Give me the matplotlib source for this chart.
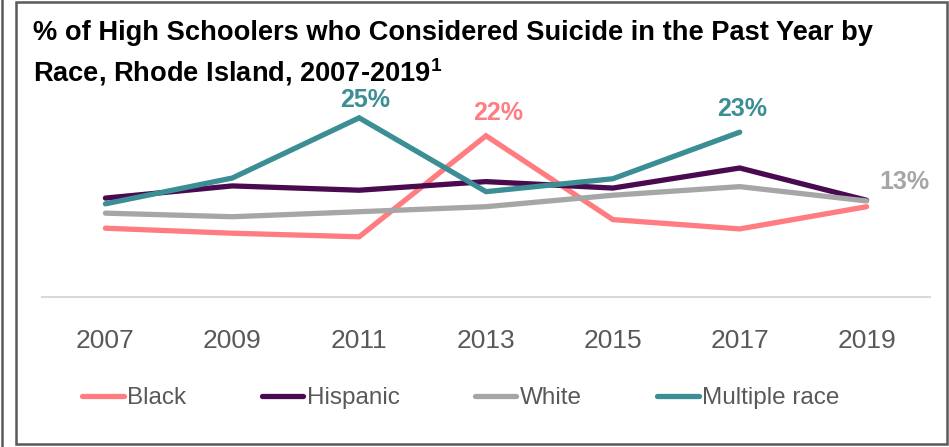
import matplotlib
matplotlib.use("Agg")
import matplotlib.pyplot as plt
from matplotlib.patches import Rectangle
from matplotlib.lines import Line2D

years = ["2007", "2009", "2011", "2013", "2015", "2017", "2019"]
black = [9.6, 8.9, 8.4, 22.5, 10.8, 9.5, 12.6]
hispanic = [13.8, 15.5, 14.9, 16.1, 15.2, 18.0, 13.5]
white = [11.7, 11.2, 11.9, 12.6, 14.2, 15.4, 13.4]
multiple = [13.0, 16.6, 25.0, 14.7, 16.5, 23.0]

c_black = "#FF7C80"
c_hisp = "#4A0A50"
c_white = "#A6A6A6"
c_mult = "#3A8E94"

plt.rcParams["font.family"] = ["Liberation Sans", "DejaVu Sans"]
plt.rcParams["mathtext.fontset"] = "custom"
plt.rcParams["mathtext.rm"] = "Liberation Sans:bold"
plt.rcParams["mathtext.it"] = "Liberation Sans:bold"
plt.rcParams["mathtext.bf"] = "Liberation Sans:bold"

W, H = 949, 447
fig = plt.figure(figsize=(W / 100, H / 100), dpi=100)

# frame like the source slide
fig.patches.append(Rectangle((16 / W, 3 / H), 931 / W, 442 / H, transform=fig.transFigure,
                             fill=False, edgecolor="#595959", linewidth=1.8))
fig.lines.append(Line2D([1.5 / W, 1.5 / W], [0, 1], transform=fig.transFigure,
                        color="#595959", linewidth=1.8))

ax = fig.add_axes([42 / W, (H - 297) / H, 888 / W, 215 / H])
x = list(range(len(years)))
lw = 3.8
ax.plot(x, black, color=c_black, lw=lw, solid_capstyle="round", solid_joinstyle="miter", label="Black")
ax.plot(x, hispanic, color=c_hisp, lw=lw, solid_capstyle="round", solid_joinstyle="miter", label="Hispanic")
ax.plot(x, white, color=c_white, lw=lw, solid_capstyle="round", solid_joinstyle="miter", label="White")
ax.plot(x[:len(multiple)], multiple, color=c_mult, lw=lw, solid_capstyle="round",
        solid_joinstyle="miter", label="Multiple race")

ax.set_xlim(-0.5, 6.5)
ax.set_ylim(0, 30)
ax.set_yticks([])
ax.set_xticks(x)
ax.set_xticklabels(years, fontsize=19, color="#595959")
ax.tick_params(axis="x", length=0, pad=23)
for s in ["top", "right", "left"]:
    ax.spines[s].set_visible(False)
ax.spines["bottom"].set_color("#D9D9D9")
ax.spines["bottom"].set_linewidth(1.5)

lab = dict(fontsize=18, fontweight="bold", ha="center", va="center", textcoords="offset points")
ax.annotate("25%", (2, multiple[2]), xytext=(4, 12.5), color=c_mult, **lab)
ax.annotate("22%", (3, black[3]), xytext=(9, 16.5), color=c_black, **lab)
ax.annotate("23%", (5, multiple[5]), xytext=(1.5, 17), color=c_mult, **lab)
ax.annotate("13%", (6, white[6]), xytext=(27, 14), color=c_white, **lab)

fig.text(33 / W, 1 - 33 / H, "% of High Schoolers who Considered Suicide in the Past Year by",
         fontsize=19.6, fontweight="bold", va="center", ha="left")
fig.text(33 / W, 1 - 72 / H, "Race, Rhode Island, 2007-2019$^{1}$",
         fontsize=19.6, fontweight="bold", va="center", ha="left")

fig.legend(loc="center", bbox_to_anchor=(461 / W, 1 - 398 / H), ncol=4, frameon=False,
           fontsize=17.5, handlelength=1.7, handletextpad=0.15, columnspacing=3.1,
           labelcolor="#595959")

fig.savefig("out.png", dpi=100)
